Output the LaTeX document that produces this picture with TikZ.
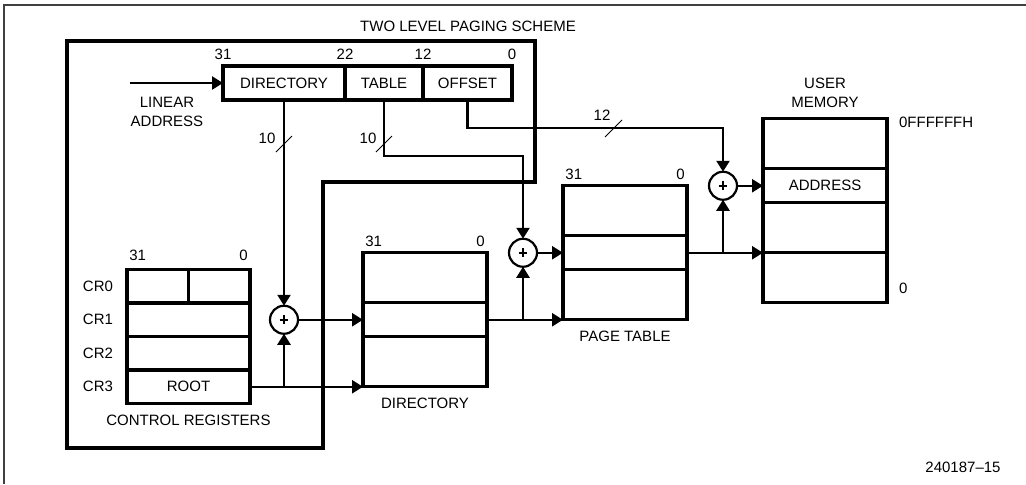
\documentclass[tikz,border=0pt]{standalone}
\usepackage{fontspec}
\setmainfont{Liberation Sans}
\usetikzlibrary{positioning,arrows.meta}

\begin{document}
\begin{tikzpicture}[x=0.5pt, y=-0.5pt, >={Triangle[length=5.5pt,width=6.5pt]},
    font=\fontsize{7.5}{9.5}\selectfont,
    box/.style={draw, line width=1.6pt, inner sep=0pt, outer sep=0pt, minimum width=62pt},
    big/.style={box, minimum height=25pt},
    small/.style={box, minimum height=17pt},
    reg/.style={box, minimum width=61.5pt, minimum height=16.75pt},
    adder/.style={circle, draw, line width=1.1pt, minimum size=14pt, inner sep=0pt, outer sep=0pt,
      path picture={\draw[line width=1.2pt] (path picture bounding box.center)
        +(-2.2pt,0) -- +(2.2pt,0) +(0,-2.2pt) -- +(0,2.2pt);}},
    wire/.style={line width=1.2pt},
    bus/.style={line width=0.4pt},
    bits/.style={inner sep=1pt}]
    \useasboundingbox (0,0) rectangle (1026,484);
    \draw[line width=0.8pt, black!75] (4,484) -- (4,5) -- (1026,5);

    % scheme frame
    \node (title) at (468,26) {TWO LEVEL PAGING SCHEME};
    \draw[line width=1.6pt] (67,41) -- (535,41) -- (535,182) -- (323,182) -- (323,448) -- (67,448) -- cycle;

    % linear address
    \node[small, minimum width=61pt, anchor=north west] (fdir) at (223,66) {DIRECTORY};
    \node[small, minimum width=39pt, right=0pt of fdir] (ftab) {TABLE};
    \node[small, minimum width=44.5pt, right=0pt of ftab] (foff) {OFFSET};
    \node[bits, above=2pt of fdir.north west] (b31) {31};
    \node[bits, above=2pt of fdir.north east] (b22) {22};
    \node[bits, above=2pt of ftab.north east] (b12) {12};
    \node[bits, above=2pt of foff.north east] (b0) {0};
    \coordinate (lin) at (130,83);
    \draw[wire,->] (lin) -- (fdir.west);
    \node[align=center] (lintxt) at (167,112) {LINEAR\\ADDRESS};

    % control registers
    \node[reg, anchor=north west] (cr0) at (127,269.5) {};
    \node[reg, below=0pt of cr0] (cr1) {};
    \node[reg, below=0pt of cr1] (cr2) {};
    \node[reg, below=0pt of cr2] (cr3) {ROOT};
    \draw[line width=1.6pt] (cr0.north) -- (cr0.south);
    \node[left=3.5pt of cr0] (l0) {CR0};
    \node[left=3.5pt of cr1] (l1) {CR1};
    \node[left=3.5pt of cr2] (l2) {CR2};
    \node[left=3.5pt of cr3] (l3) {CR3};
    \node[bits, above=3pt of cr0.north west, anchor=south west] (c31) {31};
    \node[bits, above=3pt of cr0.north east, anchor=south east] (c0) {0};
    \node[below=2pt of cr3] (crtxt) {CONTROL REGISTERS};

    % directory
    \node[big, anchor=north west] (dir1) at (363,252.75) {};
    \node[small, below=0pt of dir1] (dir2) {};
    \node[big, below=0pt of dir2] (dir3) {};
    \node[bits, above=2pt of dir1.north west, anchor=south west] (d31) {31};
    \node[bits, above=2pt of dir1.north east, anchor=south east] (d0) {0};
    \node[below=2pt of dir3] (dirtxt) {DIRECTORY};

    % page table
    \node[big, anchor=north west] (pt1) at (563,185.75) {};
    \node[small, below=0pt of pt1] (pt2) {};
    \node[big, below=0pt of pt2] (pt3) {};
    \node[bits, above=2pt of pt1.north west, anchor=south west] (p31) {31};
    \node[bits, above=2pt of pt1.north east, anchor=south east] (p0) {0};
    \node[below=2pt of pt3] (pttxt) {PAGE TABLE};

    % user memory
    \node[big, anchor=north west] (mem1) at (763,118.75) {};
    \node[small, below=0pt of mem1] (mem2) {ADDRESS};
    \node[big, below=0pt of mem2] (mem3) {};
    \node[big, below=0pt of mem3] (mem4) {};
    \node[above=2pt of mem1, align=center] (memtxt) {USER\\MEMORY};
    \node[right=2.5pt of mem1.north east, yshift=-2pt] (mtop) {0FFFFFFH};
    \node[right=2.5pt of mem4.south east, yshift=7pt] (mbot) {0};

    % adders
    \node[adder] (add1) at (fdir.south |- dir2.west) {};
    \node[adder, left=13pt of pt2] (add2) {};
    \node[adder, left=13pt of mem2] (add3) {};

    % field lines
    \draw[wire,->] (fdir.south) -- (add1.north);
    \draw[wire,->] (ftab.south) -- (ftab.south |- 0,156) -| (add2.north);
    \draw[wire,->] (foff.south) -- (foff.south |- 0,128) -| (add3.north);
    \node (w1) at (267,138) {10};
    \node (w2) at (368,138) {10};
    \node (w3) at (602,115) {12};
    \draw[bus] (276,152) -- (292,136);
    \draw[bus] (376,152) -- (392,136);
    \draw[bus] (605,137) -- (622,120);

    % table walk
    \draw[wire,->] (cr3.east) -- (cr3.east -| dir3.west);
    \draw[wire,->] (add1.south |- cr3.east) -- (add1.south);
    \draw[wire,->] (add1.east) -- (dir2.west);
    \draw[wire,->] (dir2.east) -- (dir2.east -| pt3.west);
    \draw[wire,->] (add2.south |- dir2.east) -- (add2.south);
    \draw[wire,->] (add2.east) -- (pt2.west);
    \draw[wire,->] (pt2.east) -- (pt2.east -| mem3.west);
    \draw[wire,->] (add3.south |- pt2.east) -- (add3.south);
    \draw[wire,->] (add3.east) -- (mem2.west);

    \node (fig) at (963,467) {240187--15};
\end{tikzpicture}
\end{document}
